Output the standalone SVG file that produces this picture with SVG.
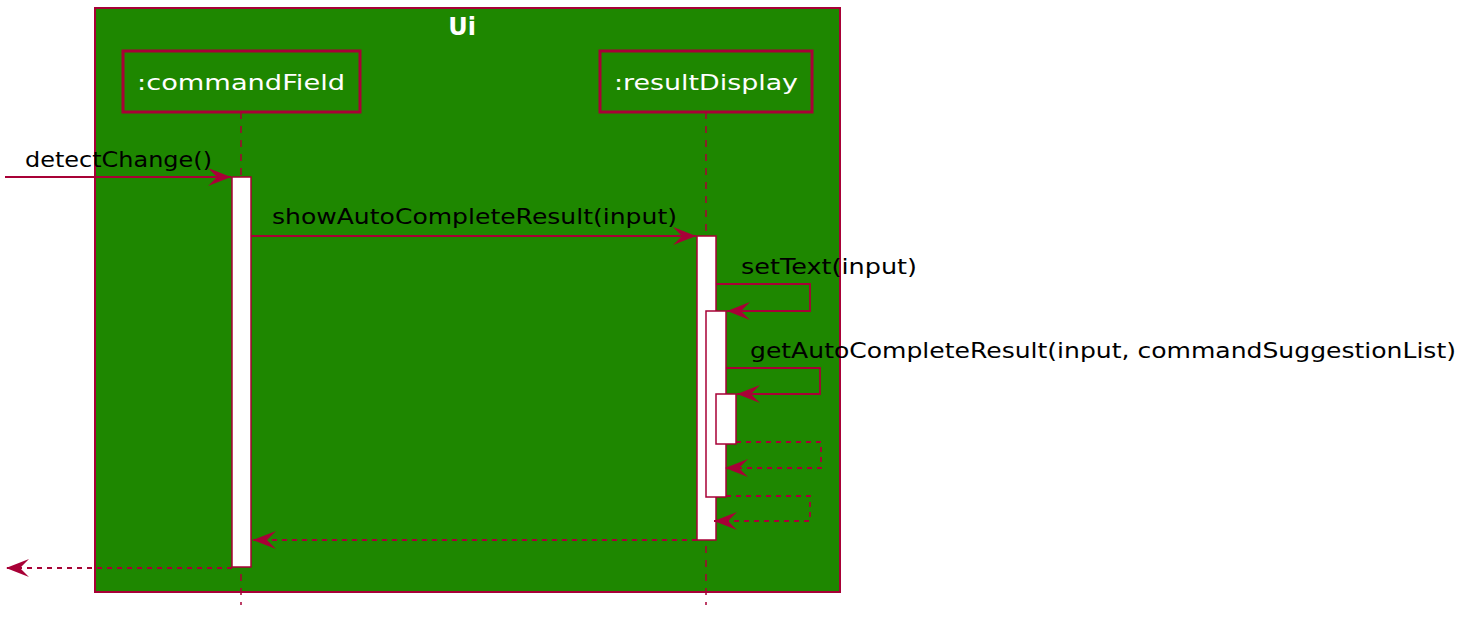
<svg xmlns="http://www.w3.org/2000/svg" width="1478" height="626" viewBox="0 0 1478 626">
<style>
.ln{stroke:#A80036;stroke-width:1.8;fill:none}
.dash{stroke-dasharray:5,5}
.life{stroke:#A80036;stroke-width:1.5;stroke-dasharray:7,7}
.act{fill:#FFFFFF;stroke:#A80036;stroke-width:1.5}
.lbl{font-family:"DejaVu Sans",sans-serif;font-size:21px;fill:#000}
.ptxt{font-family:"DejaVu Sans",sans-serif;font-size:22px;fill:#FFFFFF}
</style>
<defs>
<marker id="ah" viewBox="0 0 24 20" refX="23" refY="10" markerWidth="24" markerHeight="20" markerUnits="userSpaceOnUse" orient="auto">
<polygon points="0,1 23,10 0,19 9,10" fill="#A80036"/>
</marker>
</defs>
<rect width="1478" height="626" fill="#FFFFFF"/>
<g id="ui">
<rect x="95" y="8" width="745" height="584" fill="#1E8700" stroke="#A80036" stroke-width="2"/>
<text x="462" y="35" text-anchor="middle" font-family="DejaVu Sans,sans-serif" font-size="24" font-weight="bold" fill="#FFFFFF">Ui</text>
</g>
<g id="lifelines">
<line class="life" x1="241" y1="112" x2="241" y2="605"/>
<line class="life" x1="706" y1="112" x2="706" y2="605"/>
</g>
<g id="commandField">
<rect x="123" y="51" width="237" height="61" fill="#1E8700" stroke="#A80036" stroke-width="3"/>
<text class="ptxt" x="241" y="90" text-anchor="middle" textLength="208" lengthAdjust="spacingAndGlyphs">:commandField</text>
</g>
<g id="resultDisplay">
<rect x="600" y="51" width="212" height="61" fill="#1E8700" stroke="#A80036" stroke-width="3"/>
<text class="ptxt" x="706" y="90" text-anchor="middle" textLength="184" lengthAdjust="spacingAndGlyphs">:resultDisplay</text>
</g>
<g id="activations">
<rect class="act" x="232" y="177" width="19" height="390"/>
<rect class="act" x="697" y="236" width="19" height="304"/>
<rect class="act" x="706" y="311" width="20" height="186"/>
<rect class="act" x="716" y="394" width="20" height="50"/>
</g>
<g id="connectors">
<line class="ln" x1="5" y1="177" x2="231" y2="177" marker-end="url(#ah)"/>
<text class="lbl" x="25" y="167" textLength="187" lengthAdjust="spacingAndGlyphs">detectChange()</text>
<line class="ln" x1="251" y1="236" x2="696" y2="236" marker-end="url(#ah)"/>
<text class="lbl" x="272" y="224" textLength="405" lengthAdjust="spacingAndGlyphs">showAutoCompleteResult(input)</text>
<polyline class="ln" points="716,284 810,284 810,311 727,311" marker-end="url(#ah)"/>
<text class="lbl" x="741" y="274" textLength="176" lengthAdjust="spacingAndGlyphs">setText(input)</text>
<polyline class="ln" points="726,368 820,368 820,394 737,394" marker-end="url(#ah)"/>
<text class="lbl" x="750" y="358" textLength="706" lengthAdjust="spacingAndGlyphs">getAutoCompleteResult(input, commandSuggestionList)</text>
<polyline class="ln dash" points="736,442 821,442 821,468 725,468" marker-end="url(#ah)"/>
<polyline class="ln dash" points="726,496 810,496 810,521 714,521" marker-end="url(#ah)"/>
<line class="ln dash" x1="697" y1="540" x2="253" y2="540" marker-end="url(#ah)"/>
<line class="ln dash" x1="232" y1="568" x2="6" y2="568" marker-end="url(#ah)"/>
</g>
</svg>
